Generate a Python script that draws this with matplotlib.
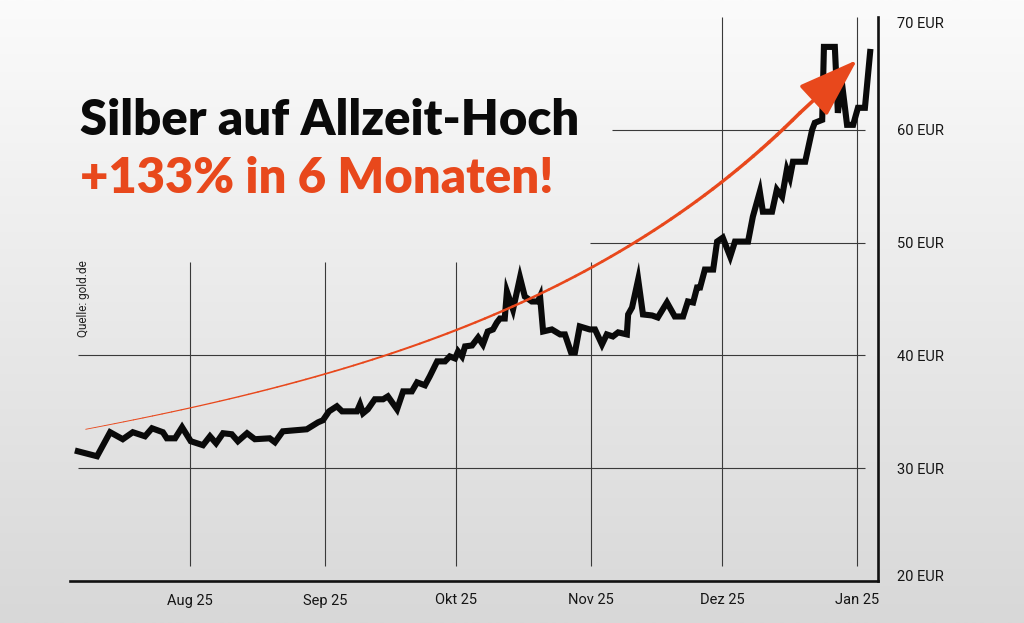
import numpy as np
import matplotlib.pyplot as plt
from matplotlib.collections import LineCollection
from matplotlib.colors import LinearSegmentedColormap
from matplotlib.bezier import BezierSegment

# Silberkurs: x = Tage seit 1. Aug 2025, y = Preis in EUR
tage = [-25.7, -21.3, -18.3, -15.4, -13.1, -10.3, -8.7, -6.2, -5.3, -3.4, -1.8,
        0.2, 3.0, 4.6, 6.0, 7.6, 9.6, 11.0, 13.1, 14.9, 18.3, 19.5, 21.3, 26.8,
        29.4, 30.5, 31.9, 33.7, 34.9, 38.3, 39.0, 39.7, 40.8, 42.4, 44.3, 45.4,
        47.5, 48.9, 50.9, 52.1, 53.9, 55.0, 56.7, 58.5, 59.6, 60.8, 61.5, 62.4,
        63.1, 64.7, 66.1, 67.2, 68.3, 69.5, 70.4, 71.1, 72.2, 72.7, 74.1, 75.7,
        76.8, 78.4, 79.8, 80.3, 81.0, 83.0, 84.9, 86.0, 87.4, 88.3, 89.4, 91.7,
        92.9, 94.5, 95.6, 97.0, 98.2, 100.2, 100.5, 101.4, 102.8, 103.9, 106.0,
        107.3, 109.4, 111.2, 113.1, 114.2, 115.4, 116.3, 117.0, 118.1, 120.0,
        120.9, 122.2, 123.9, 125.0, 128.0, 129.1, 130.7, 131.4, 133.5, 134.6,
        135.8, 136.9, 137.6, 138.3, 141.1, 142.7, 143.3, 145.0, 145.4, 147.9,
        148.6, 149.5, 150.7, 152.1, 153.2, 154.8, 156.0]
preis = [31.50, 31.06, 33.19, 32.57, 33.19, 32.83, 33.54, 33.19, 32.65, 32.65, 33.63,
         32.39, 32.04, 32.83, 32.21, 33.10, 33.01, 32.39, 33.10, 32.57, 32.65, 32.30, 33.27, 33.45,
         34.07, 34.25, 35.04, 35.49, 35.04, 35.04, 35.66, 34.87, 35.22, 36.11, 36.11, 36.37,
         35.22, 36.81, 36.81, 37.61, 37.35, 38.14, 39.47, 39.47, 39.91, 39.73, 40.35, 39.91,
         40.80, 40.88, 41.59, 40.97, 42.12, 42.30, 42.92, 43.27, 43.27, 45.66, 44.07, 46.90,
         45.22, 44.78, 44.78, 45.22, 42.12, 42.30, 41.86, 41.86, 40.27, 40.27, 42.57, 42.30,
         42.30, 40.97, 41.86, 41.68, 42.04, 41.86, 43.63, 44.25, 46.73, 43.63, 43.54,
         43.36, 44.69, 43.45, 43.45, 44.78, 44.69, 46.02, 46.02, 47.61, 47.61,
         50.09, 50.44, 48.76, 50.09, 50.09, 52.30, 54.51, 52.74, 52.74, 54.69,
         54.07, 56.46, 55.75, 57.17, 57.17, 60.00, 60.62, 60.88, 67.35, 67.35,
         61.50, 64.25, 60.44, 60.44, 61.95, 61.95, 66.90]

monate = [0, 31, 61, 92, 122, 153]
monat_labels = ["Aug 25", "Sep 25", "Okt 25", "Nov 25", "Dez 25", "Jan 25"]
eur_ticks = [20, 30, 40, 50, 60, 70]
eur_labels = ["20 EUR", "30 EUR", "40 EUR", "50 EUR", "60 EUR", "70 EUR"]

# Trendpfeil: Kontrollpunkte der Kurve + Spitze
pfeil_ctrl = [(-23.9, 33.45), (33.5, 37.70), (94.0, 43.81), (139.9, 61.50)]
pfeil_spitze = (153.0, 66.19)

ORANGE = '#e8481c'

fig = plt.figure(figsize=(10.24, 6.23), dpi=100)

# Hintergrund mit Verlauf
bg = fig.add_axes([0, 0, 1, 1], zorder=-10)
bg.imshow(np.linspace(0, 1, 256).reshape(-1, 1), aspect='auto', extent=[0, 1, 0, 1],
          cmap=LinearSegmentedColormap.from_list('bg', ['#fbfbfb', '#d8d8d8']))
bg.axis('off')

ax = fig.add_axes([70 / 1024, 42 / 623, 808 / 1024, 564 / 623])
ax.patch.set_alpha(0)
ax.set_xlim(-27.5, 157.8)
ax.set_ylim(20, 70)

# Gitter von Hand (nicht ueberall durchgezogen)
ax.hlines([30, 40, 50, 60], [-25.7, -25.7, 91.7, 96.8], 154.8, color='#3a3a3a', lw=0.8, zorder=1)
ax.vlines(monate, 21.3, [48.3, 48.3, 48.3, 48.3, 70, 70], color='#3a3a3a', lw=0.8, zorder=1)

ax.plot(tage, preis, color='#0a0a0a', lw=4.4, solid_joinstyle='miter', zorder=3)

# Trendpfeil mit zunehmender Breite
pts = BezierSegment(np.array(pfeil_ctrl))(np.linspace(0, 1, 80))
segs = np.stack([pts[:-1], pts[1:]], axis=1)
lc = LineCollection(segs, colors=ORANGE, linewidths=np.linspace(0.6, 2.6, len(segs)),
                    capstyle='round', zorder=4)
ax.add_collection(lc)
ax.annotate('', xy=pfeil_spitze, xytext=pfeil_ctrl[-1],
            arrowprops=dict(arrowstyle='-|>,head_length=1.9,head_width=0.65', mutation_scale=20,
                            color=ORANGE, lw=2.6, shrinkA=0, shrinkB=0), zorder=5)

for s in ['left', 'top']:
    ax.spines[s].set_visible(False)
for s in ['bottom', 'right']:
    ax.spines[s].set_linewidth(1.9)
    ax.spines[s].set_color('#111111')

ax.yaxis.tick_right()
ax.set_yticks(eur_ticks)
ax.set_yticklabels(eur_labels, fontfamily='Roboto', fontsize=10.5, color='#151515')
ax.set_xticks(monate)
ax.set_xticklabels(monat_labels, fontfamily='Roboto', fontsize=10.5, color='#151515')
ax.tick_params(axis='y', length=0, pad=13.5)
ax.tick_params(axis='x', length=0, pad=9)
ylabs = ax.get_yticklabels()
ylabs[-1].set_verticalalignment('top')
ylabs[0].set_verticalalignment('baseline')

fig.text(80 / 1024, 1 - 135 / 623, "Silber auf Allzeit-Hoch", fontfamily='Lato',
         fontweight='heavy', fontsize=35.3, color='#0a0a0a', va='baseline')
fig.text(80 / 1024, 1 - 193 / 623, "+133% in 6 Monaten!", fontfamily='Lato',
         fontweight='heavy', fontsize=35.2, color=ORANGE, va='baseline')
fig.text(83 / 1024, 1 - 260 / 623, "Quelle: gold.de", fontfamily='Roboto', fontsize=8.5,
         color='#222222', rotation=90, ha='center', va='top')

plt.savefig('out.png', dpi=100)
